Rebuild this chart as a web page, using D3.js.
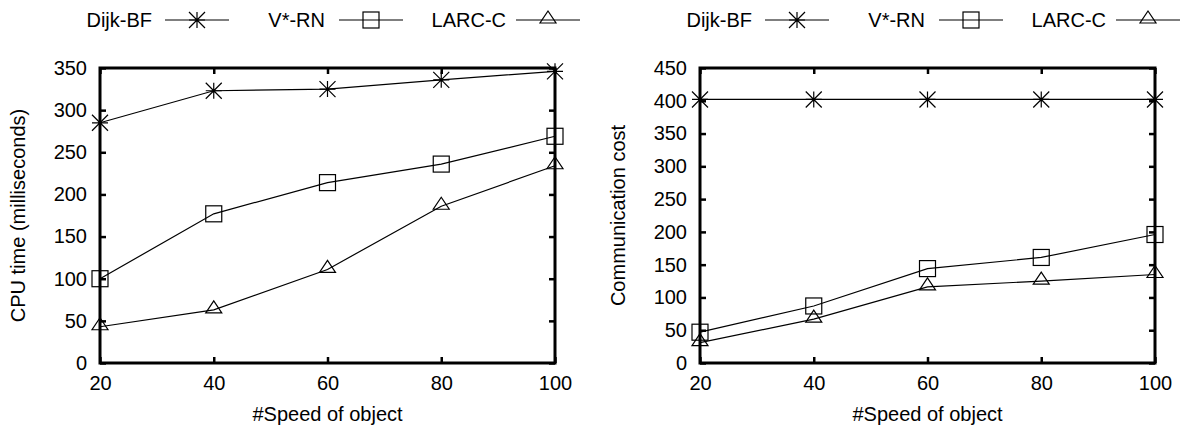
<!DOCTYPE html>
<html>
<head>
<meta charset="utf-8">
<script src="https://cdn.jsdelivr.net/npm/d3@7"></script>
<style>
  body { margin: 0; background: #fff; }
  svg { display: block; font-family: "Liberation Sans", Arial, sans-serif; }
</style>
</head>
<body>
<svg id="chart" width="1182" height="430"></svg>
<script>
// values
const speeds = [20, 40, 60, 80, 100];
const seriesNames = ["Dijk-BF", "V*-RN", "LARC-C"];
const markers = ["star", "square", "triangle"];

const cpuDijk = [285, 323, 325, 336, 346];
const cpuVrn = [100, 177, 214, 236, 269];
const cpuLarc = [43, 63, 111, 186, 234];

const commDijk = [402, 402, 402, 402, 402];
const commVrn = [47, 87, 144, 161, 196];
const commLarc = [31, 67, 116, 125, 135];

const cpuTicks = [0, 50, 100, 150, 200, 250, 300, 350];
const commTicks = [0, 50, 100, 150, 200, 250, 300, 350, 400, 450];

var svg = d3.select("#chart");
var fontSize = 20;

// draws one marker symbol centred at 0,0
function drawMarker(g, type) {
    var s = 8;
    if (type == "star") {
        g.append("path")
            .attr("d", "M" + (-s) + ",0H" + s + "M0," + (-s) + "V" + s +
                "M" + (-s) + "," + (-s) + "L" + s + "," + s +
                "M" + (-s) + "," + s + "L" + s + "," + (-s))
            .attr("stroke", "#000").attr("stroke-width", 1.2).attr("fill", "none");
    } else if (type == "square") {
        g.append("rect")
            .attr("x", -s).attr("y", -s).attr("width", 2 * s).attr("height", 2 * s)
            .attr("stroke", "#000").attr("stroke-width", 1.2).attr("fill", "none");
    } else {
        // apex high, base a little under the point, like the original
        g.append("path")
            .attr("d", "M0,-9L" + s + ",3L" + (-s) + ",3Z")
            .attr("stroke", "#000").attr("stroke-width", 1.2).attr("fill", "none");
    }
}

function drawPanel(opts) {
    var left = opts.left, right = opts.right, top = 68, bottom = 363;

    var x = d3.scaleLinear().domain([20, 100]).range([left, right]);
    var y = d3.scaleLinear().domain([0, opts.ticks[opts.ticks.length - 1]]).range([bottom, top]);

    var g = svg.append("g");

    // bottom axis with inward ticks
    var xAxis = g.append("g")
        .attr("transform", "translate(0," + bottom + ")")
        .call(d3.axisBottom(x).tickValues(speeds).tickSizeInner(-6).tickSizeOuter(0).tickPadding(13));
    // left axis
    var yAxis = g.append("g")
        .attr("transform", "translate(" + left + ",0)")
        .call(d3.axisLeft(y).tickValues(opts.ticks).tickSizeInner(-6).tickSizeOuter(0).tickPadding(13));
    // mirrored ticks on top and right
    var xTop = g.append("g")
        .attr("transform", "translate(0," + top + ")")
        .call(d3.axisTop(x).tickValues(speeds).tickSizeInner(-6).tickSizeOuter(0).tickFormat(""));
    var yRight = g.append("g")
        .attr("transform", "translate(" + right + ",0)")
        .call(d3.axisRight(y).tickValues(opts.ticks).tickSizeInner(-6).tickSizeOuter(0).tickFormat(""));

    [xAxis, yAxis, xTop, yRight].forEach(function (a) {
        a.select(".domain").remove();
        a.selectAll("line").attr("stroke", "#000").attr("stroke-width", 2.5);
        a.selectAll("text")
            .style("font-size", fontSize + "px")
            .style("font-family", "Liberation Sans, Arial, sans-serif")
            .attr("fill", "#000");
    });

    // data lines and markers
    var line = d3.line()
        .x(function (d, i) { return x(speeds[i]); })
        .y(function (d) { return y(d); });

    opts.series.forEach(function (vals, k) {
        g.append("path")
            .attr("d", line(vals))
            .attr("fill", "none")
            .attr("stroke", "#000")
            .attr("stroke-width", 1.2);
        vals.forEach(function (v, i) {
            var m = g.append("g")
                .attr("transform", "translate(" + x(speeds[i]) + "," + y(v) + ")");
            drawMarker(m, markers[k]);
        });
    });

    // frame
    g.append("rect")
        .attr("x", left).attr("y", top)
        .attr("width", right - left).attr("height", bottom - top)
        .attr("fill", "none").attr("stroke", "#000").attr("stroke-width", 3);

    // axis titles
    g.append("text")
        .attr("x", (left + right) / 2).attr("y", 421)
        .attr("text-anchor", "middle")
        .style("font-size", fontSize + "px")
        .text("#Speed of object");
    g.append("text")
        .attr("transform", "translate(" + (opts.titleX) + "," + ((top + bottom) / 2) + ") rotate(-90)")
        .attr("text-anchor", "middle")
        .style("font-size", fontSize + "px")
        .text(opts.yTitle);

    // legend on top
    var legendEnds = [152, 325, 506];
    var lineStarts = [165, 339, 516];
    seriesNames.forEach(function (name, k) {
        var off = left - 100;
        g.append("text")
            .attr("x", legendEnds[k] + off).attr("y", 27)
            .attr("text-anchor", "end")
            .style("font-size", fontSize + "px")
            .text(name);
        var lx = lineStarts[k] + off;
        g.append("line")
            .attr("x1", lx).attr("x2", lx + 64)
            .attr("y1", 20).attr("y2", 20)
            .attr("stroke", "#000").attr("stroke-width", 1.2);
        var m = g.append("g").attr("transform", "translate(" + (lx + 32) + ",20)");
        drawMarker(m, markers[k]);
    });
}

drawPanel({
    left: 100, right: 555,
    ticks: cpuTicks,
    series: [cpuDijk, cpuVrn, cpuLarc],
    yTitle: "CPU time (milliseconds)",
    titleX: 25
});

drawPanel({
    left: 700, right: 1155,
    ticks: commTicks,
    series: [commDijk, commVrn, commLarc],
    yTitle: "Communication cost",
    titleX: 625
});
</script>
</body>
</html>
